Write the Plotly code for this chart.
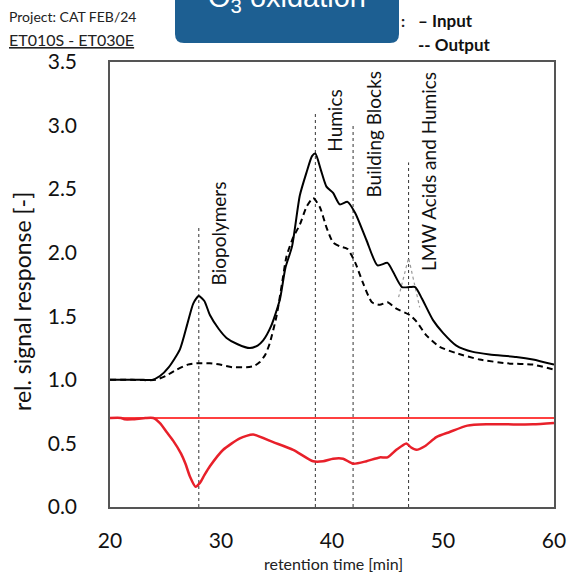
import plotly.graph_objects as go

# retention time [min] / relative signal response for the LC-OCD traces
input_t = [20.0, 21.5, 23.0, 23.8, 24.5, 25.3, 26.3, 27.0, 27.5, 28.0, 28.5, 29.0, 29.8, 30.5,
           31.5, 32.6, 33.3, 33.8, 34.5, 35.3, 35.8, 36.4, 37.1, 37.7, 38.2, 38.5, 39.0, 39.5,
           40.1, 40.7, 41.4, 42.1, 43.1, 44.1, 45.0, 45.5, 46.3, 47.0, 47.5, 48.1, 49.1, 50.0,
           51.2, 52.7, 54.2, 56.6, 58.1, 60.0]
input_y = [1.00, 1.00, 1.00, 1.00, 1.03, 1.10, 1.24, 1.45, 1.60, 1.66, 1.62, 1.51, 1.40, 1.33,
           1.28, 1.25, 1.27, 1.31, 1.42, 1.63, 1.88, 2.05, 2.45, 2.63, 2.76, 2.78, 2.65, 2.52,
           2.47, 2.38, 2.40, 2.31, 2.10, 1.90, 1.92, 1.85, 1.73, 1.73, 1.73, 1.64, 1.47, 1.37,
           1.27, 1.22, 1.20, 1.18, 1.16, 1.12]

output_t = [20.0, 22.0, 24.1, 25.0, 26.0, 27.0, 27.8, 29.0, 29.9, 31.0, 32.3, 33.0, 33.5, 34.0,
            34.4, 35.0, 35.5, 35.9, 36.5, 37.1, 37.7, 38.3, 38.9, 39.5, 40.1, 40.7, 41.4, 42.1,
            42.8, 43.6, 44.3, 45.0, 45.8, 47.0, 47.6, 48.5, 49.7, 51.2, 53.3, 55.8, 58.1, 60.0]
output_y = [1.00, 1.00, 1.00, 1.03, 1.08, 1.12, 1.13, 1.13, 1.12, 1.10, 1.10, 1.11, 1.14, 1.20,
            1.29, 1.50, 1.76, 1.97, 2.12, 2.22, 2.36, 2.43, 2.36, 2.20, 2.08, 2.05, 2.03, 1.92,
            1.76, 1.61, 1.59, 1.61, 1.56, 1.51, 1.46, 1.35, 1.26, 1.21, 1.16, 1.13, 1.12, 1.08]

ratio_t = [20.0, 21.0, 21.3, 22.0, 23.2, 23.9, 24.5, 25.1, 25.7, 26.4, 26.8, 27.2, 27.7, 28.1,
           28.5, 29.0, 30.2, 31.7, 32.9, 34.7, 36.5, 38.3, 39.2, 40.1, 41.0, 41.9, 43.1, 44.3,
           45.0, 45.8, 46.7, 47.1, 47.6, 48.4, 49.4, 50.6, 52.2, 53.9, 55.8, 58.1, 60.0]
ratio_y = [0.70, 0.70, 0.69, 0.69, 0.70, 0.70, 0.66, 0.59, 0.52, 0.42, 0.34, 0.24, 0.16, 0.19,
           0.25, 0.32, 0.45, 0.54, 0.57, 0.51, 0.45, 0.36, 0.36, 0.38, 0.38, 0.34, 0.36, 0.39,
           0.39, 0.45, 0.50, 0.47, 0.45, 0.48, 0.55, 0.59, 0.64, 0.65, 0.65, 0.65, 0.66]
ratio_ref = 0.70

# fraction markers
fraction_names = ["Biopolymers", "Humics", "Building Blocks", "LMW Acids and Humics"]
fraction_t = [28.0, 38.5, 41.9, 46.9]
fraction_top = [2.21, 3.11, 3.00, 2.71]
fraction_label_t = [29.8, 40.2, 43.7, 48.7]
fraction_label_y = [2.15, 3.04, 2.93, 2.64]

# fitted LMW peak
lmw_t = [46.0, 46.9, 47.9]
lmw_y = [1.65, 1.96, 1.57]

FONT = "Lato"
fig = go.Figure()

for t, top in zip(fraction_t, fraction_top):
    fig.add_trace(go.Scatter(x=[t, t], y=[0, top], mode="lines",
                             line=dict(color="#333333", width=1, dash="dot"),
                             hoverinfo="skip", showlegend=False))

fig.add_trace(go.Scatter(x=[20, 60], y=[ratio_ref, ratio_ref], mode="lines",
                         line=dict(color="#ff0000", width=1.3), showlegend=False))
fig.add_trace(go.Scatter(x=ratio_t, y=ratio_y, mode="lines", line_shape="spline",
                         line=dict(color="#e8202a", width=2.5, smoothing=0.6), showlegend=False))
fig.add_trace(go.Scatter(x=lmw_t, y=lmw_y, mode="lines",
                         line=dict(color="#9a9a9a", width=1.2, dash="dot"), showlegend=False))
fig.add_trace(go.Scatter(x=output_t, y=output_y, mode="lines", line_shape="spline",
                         line=dict(color="black", width=2, dash="6px,4px", smoothing=0.6),
                         showlegend=False))
fig.add_trace(go.Scatter(x=input_t, y=input_y, mode="lines", line_shape="spline",
                         line=dict(color="black", width=2, smoothing=0.6), showlegend=False))

for name, tx, ty in zip(fraction_names, fraction_label_t, fraction_label_y):
    fig.add_annotation(x=tx, y=ty, text=name, textangle=-90, showarrow=False,
                       xanchor="center", yanchor="middle",
                       font=dict(family=FONT, size=19, color="#111111"))


def px(xp):
    return (xp - 110) / 444


def py(yp):
    return (507 - yp) / 445


# header: rounded title box
x0, x1 = px(175), px(399)
y0, y1 = py(43), py(-20)
rx, ry = 9 / 444, 9 / 445
path = (f"M {x0},{y1} L {x0},{y0 + ry} Q {x0},{y0} {x0 + rx},{y0} "
        f"L {x1 - rx},{y0} Q {x1},{y0} {x1},{y0 + ry} L {x1},{y1} Z")
fig.add_shape(type="path", path=path, xref="paper", yref="paper",
              fillcolor="#1d5f92", line=dict(width=0), layer="above")

fig.add_annotation(x=px(287), y=py(19), xref="paper", yref="paper", text="O<sub>3</sub> oxidation",
                   showarrow=False, xanchor="center", yanchor="bottom",
                   font=dict(family="Liberation Sans", size=29, color="white"))
fig.add_annotation(x=px(7), y=py(16), xref="paper", yref="paper", text="Project: CAT FEB/24",
                   showarrow=False, xanchor="left", yanchor="middle",
                   font=dict(family=FONT, size=14, color="#222222"))
fig.add_annotation(x=px(7), y=py(40), xref="paper", yref="paper", text="<u>ET010S - ET030E</u>",
                   showarrow=False, xanchor="left", yanchor="middle",
                   font=dict(family=FONT, size=16, color="#222222"))
fig.add_annotation(x=px(399), y=py(21), xref="paper", yref="paper", text="<b>:</b>",
                   showarrow=False, xanchor="left", yanchor="middle",
                   font=dict(family=FONT, size=16, color="#222222"))
fig.add_annotation(x=px(416), y=py(21), xref="paper", yref="paper", text="<b>– Input</b>",
                   showarrow=False, xanchor="left", yanchor="middle",
                   font=dict(family=FONT, size=17, color="#111111"))
fig.add_annotation(x=px(416), y=py(44), xref="paper", yref="paper", text="<b>-- Output</b>",
                   showarrow=False, xanchor="left", yanchor="middle",
                   font=dict(family=FONT, size=17, color="#111111"))
fig.add_annotation(x=px(22), y=py(302), xref="paper", yref="paper",
                   text="rel. signal response [-]", textangle=-90, showarrow=False,
                   xanchor="center", yanchor="middle",
                   font=dict(family=FONT, size=23, color="#111111"))
fig.add_annotation(x=px(333), y=py(563), xref="paper", yref="paper",
                   text="retention time [min]", showarrow=False,
                   xanchor="center", yanchor="middle",
                   font=dict(family=FONT, size=16, color="#222222"))

axis_common = dict(showgrid=False, zeroline=False, showline=True, linecolor="#555555",
                   linewidth=1.5, mirror=True, ticks="", automargin=False,
                   tickfont=dict(family=FONT, size=21, color="#111111"))
fig.update_xaxes(range=[20, 60], tickvals=[20, 30, 40, 50, 60], ticklabelstandoff=14,
                 **axis_common)
fig.update_yaxes(range=[0, 3.5], tickvals=[0, 0.5, 1, 1.5, 2, 2.5, 3, 3.5], tickformat=".1f",
                 ticklabelstandoff=27, **axis_common)

fig.update_layout(width=569, height=573, plot_bgcolor="white", paper_bgcolor="white",
                  margin=dict(l=110, r=15, t=62, b=66), showlegend=False)

fig.write_html("out.html")
